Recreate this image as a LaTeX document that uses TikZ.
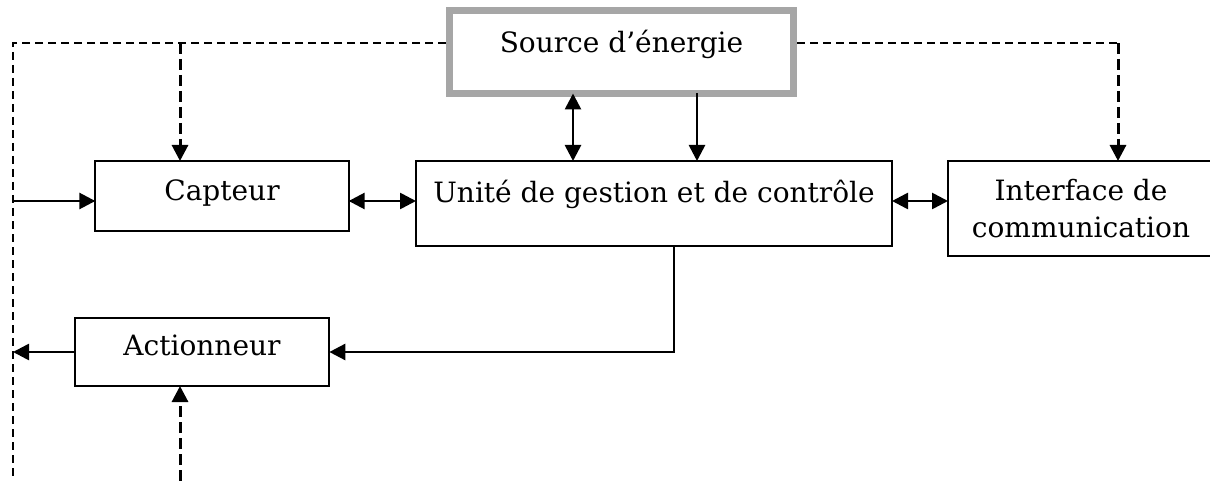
\documentclass[tikz,border=0pt]{standalone}
\usepackage{fontspec}
\setmainfont{DejaVu Serif}
\usetikzlibrary{arrows.meta,calc}
\begin{document}
\begin{tikzpicture}[x=0.75pt,y=-0.75pt,
  font=\fontsize{21}{27.75}\selectfont,
  block/.style={draw=black,line width=1.6pt,rectangle,inner sep=0pt,outer sep=0pt,
    align=center,text height=15.75pt},
  srcbox/.style={draw=srcgray,line width=5.25pt,rectangle,inner sep=0pt,outer sep=0pt,
    text height=15.75pt,text depth=14.25pt},
  flow/.style={line width=2pt,-{Triangle[length=12pt,width=12pt]}},
  twoway/.style={line width=2pt,{Triangle[length=12pt,width=12pt]}-{Triangle[length=12pt,width=12pt]}},
  supply/.style={line width=1.5pt,dash pattern=on 6pt off 3.75pt},
  feed/.style={line width=2.25pt,dash pattern=on 8pt off 4pt,-{Triangle[length=12pt,width=12pt]}}
]
\definecolor{srcgray}{HTML}{A6A6A6}
\useasboundingbox (0,0) rectangle (1210,481);

% blocks
\node[srcbox,minimum width=258pt,minimum height=62.25pt] (src) at (621.5,52) {Source d’énergie};
\node[block,minimum width=190pt,minimum height=52.5pt,text depth=9.75pt] (cap) at (222,196) {Capteur};
\node[block,minimum width=357pt,minimum height=63.75pt,text depth=16.5pt] (unit) at (654,203.5) {Unité de gestion et de contrôle};
\node[block,minimum width=199.5pt,minimum height=71.25pt,text height={},text depth={}] (intf) at (1081,208.5) {Interface de\\communication};
\node[block,minimum width=191pt,minimum height=51pt,text depth=11.25pt] (act) at (202,352) {Actionneur};

% routing points
\coordinate (tl) at (13,43);
\coordinate (bl) at (13,481);
\coordinate (tr) at (1118,43);
\coordinate (capdrop) at (180,43);
\coordinate (actfeed) at (180,481);
\coordinate (inL) at (13,201);
\coordinate (srcL) at (446,43);
\coordinate (srcR) at (797,43);
\coordinate (bus) at (573,0);
\coordinate (pwr) at (697,0);
\coordinate (ctl) at (674,0);

% energy distribution (dashed)
\draw[supply] (srcL) -- (tl) -- (bl);
\draw[supply] (srcR) -- (tr);
\draw[feed] (capdrop) -- (capdrop |- cap.north);
\draw[feed] (tr) -- (tr |- intf.north);
\draw[feed] (actfeed) -- (actfeed |- act.south);

% signal paths
\draw[flow] (inL) -- (inL -| cap.west);
\draw[twoway] (cap.east |- inL) -- (unit.west |- inL);
\draw[twoway] (unit.east |- inL) -- (intf.west |- inL);
\draw[twoway] (bus |- src.south) -- (bus |- unit.north);
\draw[flow] (pwr |- src.south) -- (pwr |- unit.north);
\draw[flow] (ctl |- unit.south) |- (act.east);
\draw[flow] (act.west) -- (act.west -| tl);
\end{tikzpicture}
\end{document}
